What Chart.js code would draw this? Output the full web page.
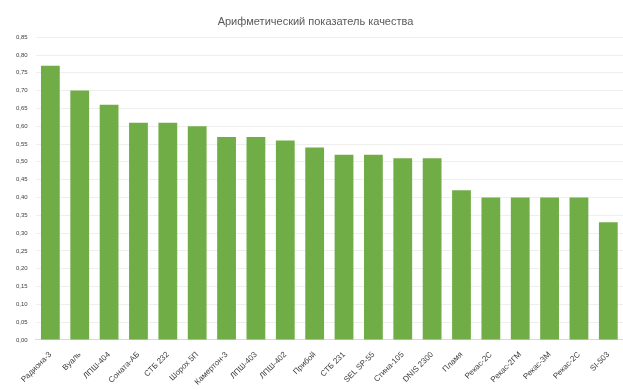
<!DOCTYPE html>
<html>
<head>
<meta charset="utf-8">
<script src="https://cdn.jsdelivr.net/npm/chart.js@4"></script>
<style>
  html, body { margin: 0; padding: 0; background: #fff; }
  #wrap { width: 623px; height: 390px; }
</style>
</head>
<body>
<div id="wrap"><canvas id="chart"></canvas></div>
<script>
const categories = [
  'Радиона-3', 'Вуаль', 'ЛПШ-404', 'Соната-АБ', 'СТБ 232', 'Шорох 5П',
  'Камертон-3', 'ЛПШ-403', 'ЛПШ-402', 'Прибой', 'СТБ 231', 'SEL SP-55',
  'Стина-105', 'DNIS 2300', 'Пламя', 'Рекас-2С', 'Рекас-2ГМ', 'Рекас-3М',
  'Рекас-2С', 'SI-503'
]
const values = [
  0.77, 0.70, 0.66, 0.61, 0.61, 0.60,
  0.57, 0.57, 0.56, 0.54, 0.52, 0.52,
  0.51, 0.51, 0.42, 0.40, 0.40, 0.40,
  0.40, 0.33
]
const title = 'Арифметический показатель качества'

const ctx = document.getElementById('chart').getContext('2d')
new Chart(ctx, {
  type: 'bar',
  data: {
    labels: categories,
    datasets: [
      {
        label: title,
        data: values,
        backgroundColor: '#70ad47',
        borderWidth: 0,
        categoryPercentage: 1,
        barPercentage: 0.64
      }
    ]
  },
  options: {
    responsive: true,
    maintainAspectRatio: false,
    animation: false,
    layout: { padding: { left: 8, right: 0, top: 9, bottom: 1 } },
    plugins: {
      legend: { display: false },
      tooltip: { enabled: false },
      title: {
        display: true,
        text: title,
        color: '#595959',
        font: { family: 'Liberation Sans', size: 11, weight: 'normal' },
        padding: { top: 6, bottom: 9 }
      }
    },
    scales: {
      x: {
        grid: { display: false },
        border: { color: '#d9d9d9' },
        ticks: {
          color: '#404040',
          padding: 2,
          font: { family: 'Liberation Sans', size: 8 },
          minRotation: 45,
          maxRotation: 45,
          autoSkip: false
        }
      },
      y: {
        min: 0,
        max: 0.85,
        grid: { color: '#eeeeee', drawTicks: false },
        border: { display: false },
        ticks: {
          stepSize: 0.05,
          color: '#404040',
          padding: 8,
          font: { family: 'Liberation Sans', size: 6 },
          callback: v => v.toFixed(2).replace('.', ',')
        }
      }
    }
  }
})
</script>
</body>
</html>
